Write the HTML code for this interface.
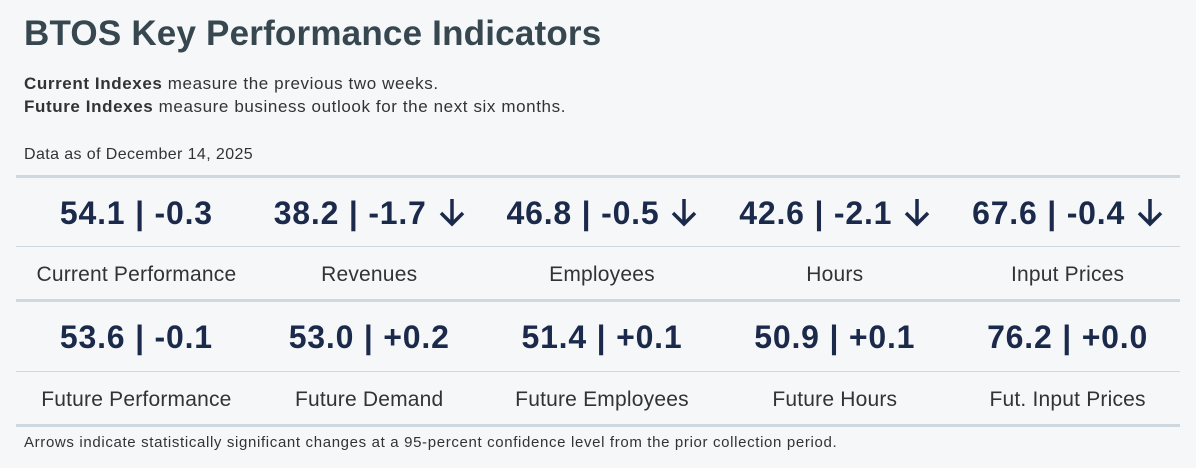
<!DOCTYPE html>
<html><head><meta charset="utf-8"><style>
body{margin:0;width:1196px;height:468px;background:#f5f7f9;font-family:"Liberation Sans",sans-serif;position:relative;overflow:hidden}
.t{position:absolute;left:24px;top:14px;font-size:35px;font-weight:bold;color:#37474f;letter-spacing:0.2px}
.s{position:absolute;left:24px;font-size:17px;color:#333;letter-spacing:0.6px}
.hl{position:absolute;left:16px;width:1164px;background:#cfd8df}
.row{position:absolute;left:20px;width:1164px;display:flex}
.row div{flex:1;text-align:center;white-space:nowrap}
.v{font-size:32px;font-weight:bold;color:#1b2a4a;letter-spacing:0.8px}
.l{font-size:21px;color:#333;letter-spacing:0.2px}
.f{position:absolute;left:24px;top:434px;font-size:15px;color:#333;letter-spacing:0.65px}
svg{vertical-align:-3px;margin-left:12px}
</style></head><body>
<div class="t">BTOS Key Performance Indicators</div>
<div class="s" style="top:74px"><b>Current Indexes</b> measure the previous two weeks.</div>
<div class="s" style="top:97px"><b>Future Indexes</b> measure business outlook for the next six months.</div>
<div class="s" style="top:146px;font-size:16px;letter-spacing:0.4px">Data as of December 14, 2025</div>
<div class="hl" style="top:175px;height:3px"></div>
<div class="row v" style="top:195px"><div>54.1 | -0.3</div>
<div>38.2 | -1.7<svg width="26" height="30" viewBox="0 0 26 30"><path d="M13 2V27M2 16L13 27L24 16" stroke="#1b2a4a" stroke-width="3.5" fill="none"/></svg></div>
<div>46.8 | -0.5<svg width="26" height="30" viewBox="0 0 26 30"><path d="M13 2V27M2 16L13 27L24 16" stroke="#1b2a4a" stroke-width="3.5" fill="none"/></svg></div>
<div>42.6 | -2.1<svg width="26" height="30" viewBox="0 0 26 30"><path d="M13 2V27M2 16L13 27L24 16" stroke="#1b2a4a" stroke-width="3.5" fill="none"/></svg></div>
<div>67.6 | -0.4<svg width="26" height="30" viewBox="0 0 26 30"><path d="M13 2V27M2 16L13 27L24 16" stroke="#1b2a4a" stroke-width="3.5" fill="none"/></svg></div></div>
<div class="hl" style="top:246px;height:1px"></div>
<div class="row l" style="top:263px"><div>Current Performance</div><div>Revenues</div><div>Employees</div><div>Hours</div><div>Input Prices</div></div>
<div class="hl" style="top:299px;height:3px"></div>
<div class="row v" style="top:319px"><div>53.6 | -0.1</div><div>53.0 | +0.2</div><div>51.4 | +0.1</div><div>50.9 | +0.1</div><div>76.2 | +0.0</div></div>
<div class="hl" style="top:371px;height:1px"></div>
<div class="row l" style="top:388px"><div>Future Performance</div><div>Future Demand</div><div>Future Employees</div><div>Future Hours</div><div>Fut. Input Prices</div></div>
<div class="hl" style="top:424px;height:3px"></div>
<div class="f">Arrows indicate statistically significant changes at a 95-percent confidence level from the prior collection period.</div>
</body></html>
